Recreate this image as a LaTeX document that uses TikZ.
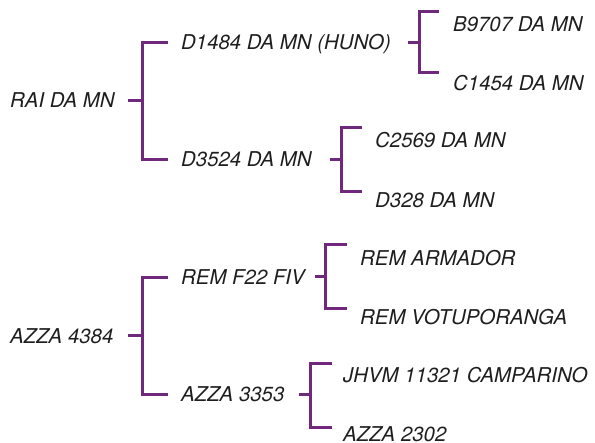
\documentclass[tikz,border=0pt]{standalone}
\usepackage{fontspec}
\setmainfont{TeX Gyre Heros}
\definecolor{brk}{RGB}{112,40,124}
\definecolor{txt}{RGB}{30,30,30}
\begin{document}
\begin{tikzpicture}[x=1pt,y=-1pt,
  lbl/.style={anchor=west,inner sep=0pt,text height=14pt,text depth=0pt,
    font=\fontsize{20.4}{23}\selectfont\itshape,text=txt},
  br/.style={draw=brk,line width=3pt,line join=miter,line cap=butt}]
\useasboundingbox (0,0) rectangle (595,443);
% nodes
\node[lbl] (r1) at (10,101) {RAI DA MN};
\node[lbl] (a1) at (181,43) {D1484 DA MN (HUNO)};
\node[lbl] (a2) at (181,160) {D3524 DA MN};
\node[lbl] (b1) at (453,25) {B9707 DA MN};
\node[lbl] (b2) at (453,84) {C1454 DA MN};
\node[lbl] (c1) at (375,141) {C2569 DA MN};
\node[lbl] (c2) at (375,201) {D328 DA MN};
\node[lbl] (r2) at (10,337) {AZZA 4384};
\node[lbl] (d1) at (181,278) {REM F22 FIV};
\node[lbl] (d2) at (181,395) {AZZA 3353};
\node[lbl] (e1) at (360,259) {REM ARMADOR};
\node[lbl] (e2) at (360,318) {REM VOTUPORANGA};
\node[lbl] (f1) at (343,376) {JHVM 11321 CAMPARINO};
\node[lbl] (f2) at (343,435) {AZZA 2302};
% junctions
\coordinate (j1) at (142,101);
\coordinate (j2) at (419,43);
\coordinate (j3) at (341,160);
\coordinate (j4) at (142,336);
\coordinate (j5) at (325,277);
\coordinate (j6) at (310,395);
% brackets
\draw[br] (j1) ++(-14,0) -- (j1);
\draw[br] ([xshift=-13pt]a1.west) -| (j1) |- ([xshift=-13pt]a2.west);
\draw[br] (j2) ++(-11,0) -- (j2);
\draw[br] ([xshift=-14pt,yshift=13pt]b1.west) -| (j2) |- ([xshift=-14pt,yshift=11pt]b2.west);
\draw[br] (j3) ++(-11,0) -- (j3);
\draw[br] ([xshift=-13pt,yshift=13pt]c1.west) -| (j3) |- ([xshift=-13pt,yshift=9pt]c2.west);
\draw[br] (j4) ++(-14,0) -- (j4);
\draw[br] ([xshift=-13pt]d1.west) -| (j4) |- ([xshift=-13pt]d2.west);
\draw[br] (j5) ++(-10,0) -- (j5);
\draw[br] ([xshift=-13pt,yshift=14pt]e1.west) -| (j5) |- ([xshift=-13pt,yshift=9pt]e2.west);
\draw[br] (j6) ++(-11,0) -- (j6);
\draw[br] ([xshift=-11pt,yshift=12pt]f1.west) -| (j6) |- ([xshift=-11pt,yshift=7pt]f2.west);
\end{tikzpicture}
\end{document}
